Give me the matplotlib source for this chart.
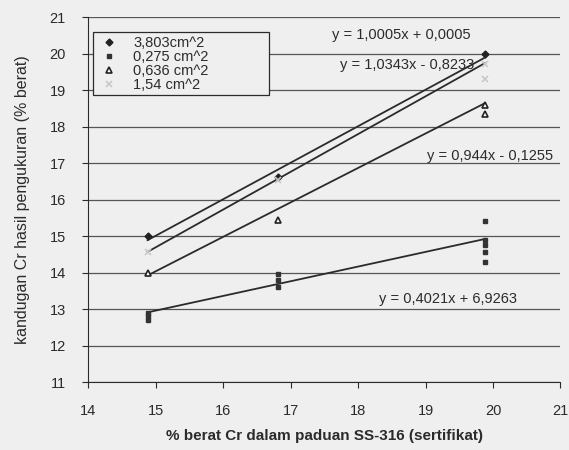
import matplotlib
matplotlib.use("Agg")
import matplotlib.pyplot as plt
import numpy as np

plt.rcParams["font.family"] = ["Liberation Sans", "DejaVu Sans"]

# certified Cr content (x) and measured values for each sample area
x_left, x_mid, x_right = 14.88, 16.81, 19.88

labels = ["3,803cm^2", "0,275 cm^2", "0,636 cm^2", "1,54 cm^2"]

x_a = [x_left, x_mid, x_right]
y_a = [15.0, 16.62, 19.99]

x_b = [x_left, x_left, x_left, x_mid, x_mid, x_mid,
       x_right, x_right, x_right, x_right, x_right]
y_b = [12.9, 12.8, 12.7, 13.95, 13.8, 13.6,
       15.4, 14.9, 14.75, 14.55, 14.3]

x_c = [x_left, x_mid, x_right, x_right]
y_c = [14.0, 15.45, 18.6, 18.35]

x_d = [x_left, x_mid, x_right, x_right]
y_d = [14.55, 16.55, 19.72, 19.3]

# trendline coefficients (slope, intercept) as printed on the chart
slopes = [1.0005, 0.4021, 0.944, 1.0343]
intercepts = [0.0005, 6.9263, -0.1255, -0.8233]
eq_texts = ["y = 1,0005x + 0,0005", "y = 0,4021x + 6,9263",
            "y = 0,944x - 0,1255", "y = 1,0343x - 0,8233"]
eq_pos = [(18.64, 20.5), (19.33, 13.27), (19.95, 17.2), (18.72, 19.68)]

bg = "#efefef"
ink = "#2b2b2b"

fig = plt.figure(figsize=(5.69, 4.5), dpi=100, facecolor=bg)
ax = fig.add_axes([0.155, 0.151, 0.83, 0.811], facecolor=bg)

series = [(x_a, y_a), (x_b, y_b), (x_c, y_c), (x_d, y_d)]
styles = [
    dict(marker="D", ms=3.5, mfc="#222222", mec="#222222"),
    dict(marker="s", ms=3.5, mfc="#333333", mec="#333333"),
    dict(marker="^", ms=5, mfc="white", mec="#222222", mew=1.2),
    dict(marker="x", ms=4, mfc="#c8c8c8", mec="#c8c8c8", mew=1.2),
]

for (xs, ys), st, lab in zip(series, styles, labels):
    ax.plot(xs, ys, linestyle="none", label=lab, **st)

for (xs, ys), m, b in zip(series, slopes, intercepts):
    xx = np.array([min(xs), max(xs)])
    ax.plot(xx, m * xx + b, color=ink, lw=1.3, zorder=1)

for txt, (tx, ty) in zip(eq_texts, eq_pos):
    ax.text(tx, ty, txt, ha="center", va="center", fontsize=10.5, color=ink)

ax.set_xlim(14, 21)
ax.set_ylim(11, 21)
ax.set_xticks(range(14, 22))
ax.set_yticks(range(11, 22))
ax.yaxis.grid(True, color="#555555", lw=0.9)
ax.set_axisbelow(True)
for side in ["top", "right"]:
    ax.spines[side].set_visible(False)
for side in ["left", "bottom"]:
    ax.spines[side].set_color(ink)
ax.tick_params(colors=ink, labelsize=10.5, length=4, width=0.8)
ax.tick_params(axis="x", pad=12)
ax.tick_params(axis="y", pad=12)

ax.set_xlabel("% berat Cr dalam paduan SS-316 (sertifikat)", fontsize=11,
              fontweight="bold", color=ink, labelpad=8)
ax.set_ylabel("kandugan Cr hasil pengukuran (% berat)", fontsize=11.5,
              color=ink, labelpad=14)

leg = ax.legend(loc="upper left", bbox_to_anchor=(0.011, 0.792, 0.371, 0.167),
                mode="expand", fontsize=10.5,
                frameon=True, fancybox=False, edgecolor=ink, facecolor=bg,
                framealpha=1, handletextpad=0.9, borderpad=0.25,
                labelspacing=0.0, handlelength=1.6, borderaxespad=0)
leg.get_frame().set_linewidth(0.9)
for t in leg.get_texts():
    t.set_color(ink)

fig.savefig("out.png", dpi=100, facecolor=bg)
